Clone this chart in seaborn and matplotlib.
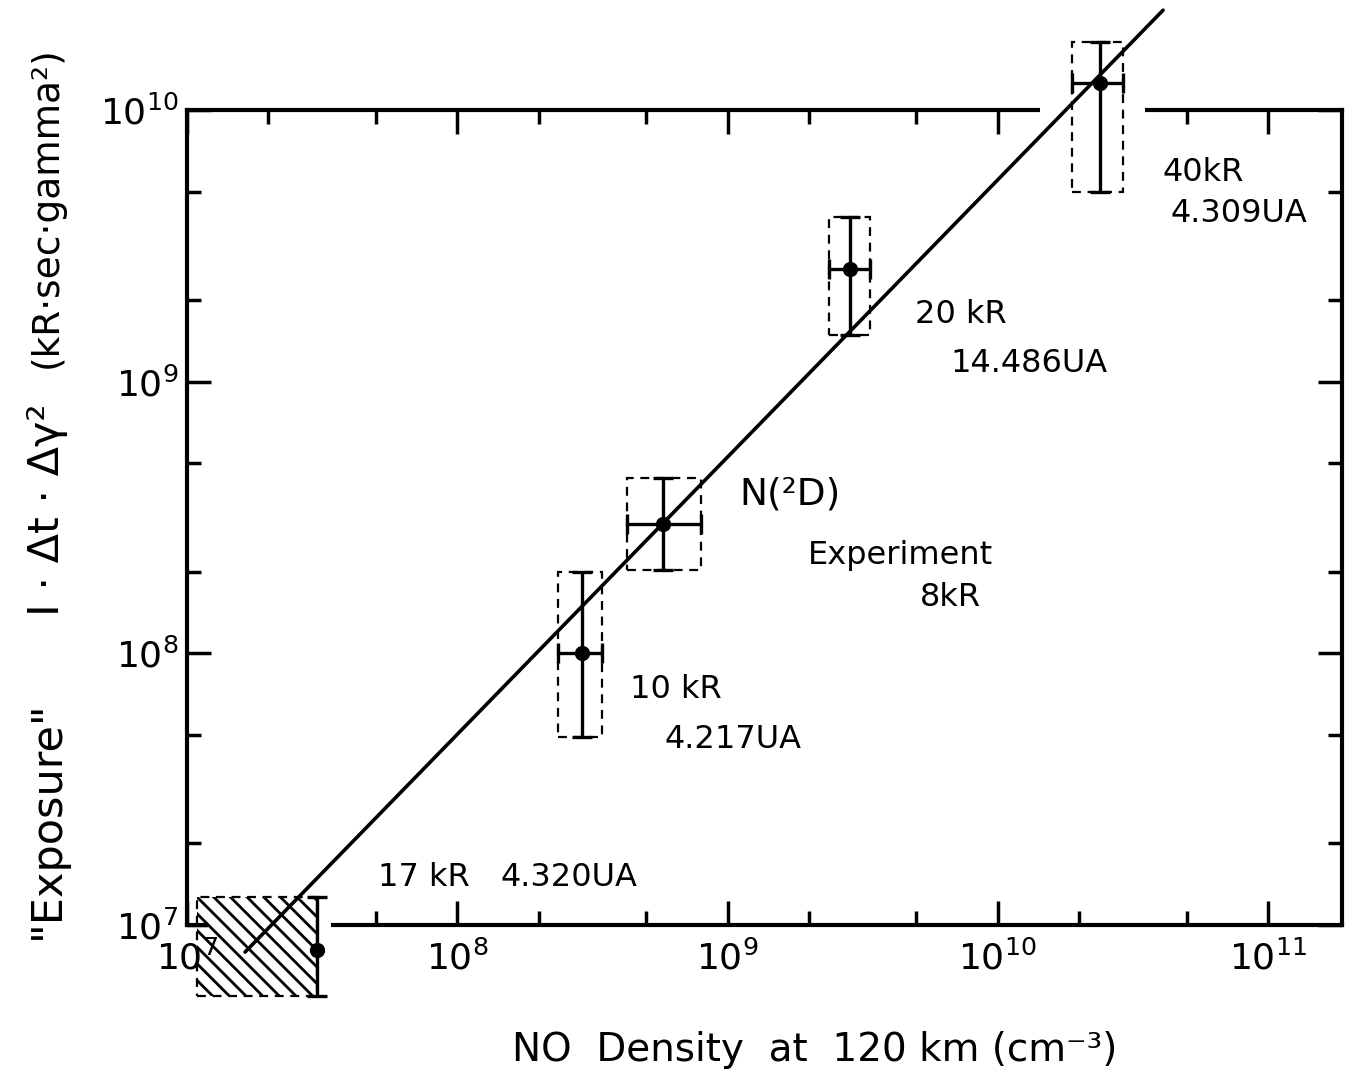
import numpy as np
import matplotlib
matplotlib.use('Agg')
import matplotlib.pyplot as plt
from matplotlib.patches import Rectangle
from matplotlib.ticker import LogLocator, NullFormatter
import seaborn as sns

# Datos (densidad NO vs "exposure")
no_density = np.array([3.03e7, 2.89e8, 5.77e8, 2.84e9, 2.39e10])
exposure = np.array([8.1e6, 1.0e8, 3.0e8, 2.6e9, 1.26e10])

# Cajas de incertidumbre (también los extremos de las barras de error)
box_x_lo = np.array([1.09e7, 2.36e8, 4.25e8, 2.38e9, 1.88e10])
box_x_hi = np.array([3.03e7, 3.44e8, 7.98e8, 3.37e9, 2.91e10])
box_y_lo = np.array([5.5e6, 4.92e7, 2.03e8, 1.48e9, 5.0e9])
box_y_hi = np.array([1.27e7, 1.99e8, 4.42e8, 4.03e9, 1.78e10])
show_xerr = [False, True, True, True, True]
hatched = [True, False, False, False, False]

# Recta de ajuste
fit_x = [1.64e7, 4.09e10]
fit_y = [7.95e6, 2.33e10]

# Etiquetas de los puntos
labels = ['40kR', '4.309UA', '20 kR', '14.486UA', 'N(²D)', 'Experiment', '8kR',
          '10 kR', '4.217UA', '17 kR', '4.320UA']
label_x = [4.06e10, 4.34e10, 4.94e9, 6.66e9, 1.11e9, 1.99e9, 5.16e9,
           4.35e8, 5.87e8, 5.09e7, 1.44e8]
label_y = [5.9e9, 4.17e9, 1.76e9, 1.17e9, 3.83e8, 2.30e8, 1.6e8,
           7.33e7, 4.8e7, 1.50e7, 1.50e7]
label_size = [23, 23, 23, 23, 27, 23, 23, 23, 23, 23, 23]

sns.set_style('ticks')
plt.rcParams['font.family'] = ['DejaVu Sans']
plt.rcParams['hatch.linewidth'] = 2.0
for k in ['text.color', 'axes.labelcolor', 'xtick.color', 'ytick.color', 'axes.edgecolor']:
    plt.rcParams[k] = 'black'

fig = plt.figure(figsize=(13.49, 10.77), dpi=100)
ax = fig.add_axes([187 / 1349, 1 - 925 / 1077, 1155 / 1349, 815 / 1077])
ax.set_xscale('log')
ax.set_yscale('log')
ax.set_xlim(1e7, 10 ** (7 + 1155 / 270.25))
ax.set_ylim(1e7, 1e10)

# Línea de ajuste
sns.lineplot(x=fit_x, y=fit_y, ax=ax, color='black', linewidth=2.6)
for line in ax.lines:
    line.set_clip_on(False)
    line.set_zorder(5)

# Tapar trozos del marco como en el original
ax.add_patch(Rectangle((1.43e10, 10 ** 9.93), 3.51e10 - 1.43e10, 10 ** 10.03 - 10 ** 9.93,
                       facecolor='white', edgecolor='none', zorder=2.7, clip_on=False))
ax.add_patch(Rectangle((1.2e7, 10 ** 6.97), 3.4e7 - 1.2e7, 10 ** 7.07 - 10 ** 6.97,
                       facecolor='white', edgecolor='none', zorder=2.7, clip_on=False))

# Cajas discontinuas
for i in range(len(no_density)):
    rect = Rectangle((box_x_lo[i], box_y_lo[i]), box_x_hi[i] - box_x_lo[i],
                     box_y_hi[i] - box_y_lo[i], fill=False, edgecolor='black',
                     linestyle=(0, (4, 3)), linewidth=1.6, zorder=3.5, clip_on=False,
                     hatch='\\\\' if hatched[i] else None)
    ax.add_patch(rect)

# Puntos con barras de error
for i in range(len(no_density)):
    xerr = [[no_density[i] - box_x_lo[i]], [box_x_hi[i] - no_density[i]]] if show_xerr[i] else None
    yerr = [[exposure[i] - box_y_lo[i]], [box_y_hi[i] - exposure[i]]]
    eb = ax.errorbar([no_density[i]], [exposure[i]], xerr=xerr, yerr=yerr, fmt='o',
                     color='black', markersize=10, capsize=7, elinewidth=2.4,
                     capthick=2.4, zorder=4)
    for art in eb.get_children():
        art.set_clip_on(False)

for t, lx, ly, fs in zip(labels, label_x, label_y, label_size):
    ax.text(lx, ly, t, fontsize=fs, ha='left', va='center')

# Ejes
ax.xaxis.set_minor_locator(LogLocator(base=10, subs=(2, 5)))
ax.yaxis.set_minor_locator(LogLocator(base=10, subs=(2, 5)))
ax.xaxis.set_minor_formatter(NullFormatter())
ax.yaxis.set_minor_formatter(NullFormatter())
ax.set_xticks([1e7, 1e8, 1e9, 1e10, 1e11])
ax.set_yticks([1e7, 1e8, 1e9, 1e10])
ax.tick_params(which='both', direction='in', top=True, right=True, width=2.5,
               labelsize=26)
ax.tick_params(which='major', length=17)
ax.tick_params(which='minor', length=10)
ax.tick_params(axis='x', pad=11)
ax.tick_params(axis='y', pad=6)
for sp in ax.spines.values():
    sp.set_linewidth(3)

fig.text(815 / 1349, 1 - 1050 / 1077, 'NO  Density  at  120 km (cm⁻³)',
         fontsize=28, ha='center', va='center')
fig.text(47 / 1349, 1 - 820 / 1077, '"Exposure"',
         fontsize=31, ha='center', va='center', rotation=90)
fig.text(47 / 1349, 1 - 510 / 1077, 'I · Δt · Δγ²',
         fontsize=31, ha='center', va='center', rotation=90)
fig.text(47 / 1349, 1 - 207 / 1077, '(kR·sec·gamma²)',
         fontsize=27, ha='center', va='center', rotation=90)

fig.savefig('out.png', dpi=100, facecolor='white')
